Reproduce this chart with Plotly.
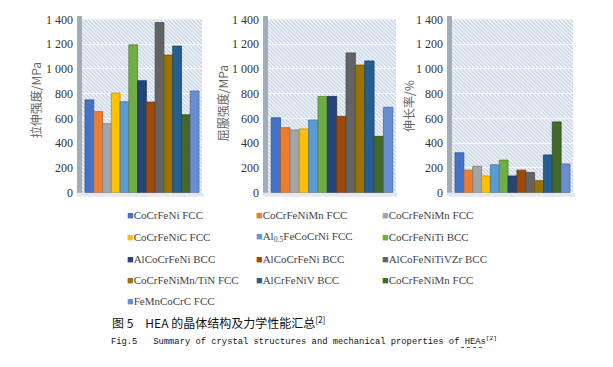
import plotly.graph_objects as go

# ---- data ----
series_names = [
    "CoCrFeNi FCC", "CoCrFeNiMn FCC", "CoCrFeNiMn FCC",
    "CoCrFeNiC FCC", "Al<sub>0.5</sub>FeCoCrNi FCC", "CoCrFeNiTi BCC",
    "AlCoCrFeNi BCC", "AlCoCrFeNi BCC", "AlCoFeNiTiVZr BCC",
    "CoCrFeNiMn/TiN FCC", "AlCrFeNiV BCC", "CoCrFeNiMn FCC",
    "FeMnCoCrC FCC",
]
series_colors = [
    "#4472C4", "#ED7D31", "#A5A5A5", "#FFC000", "#5B9BD5", "#70AD47",
    "#264478", "#9E480E", "#636363", "#997300", "#255E91", "#43682B",
    "#698ED0",
]
tensile_mpa = [750, 655, 558, 805, 735, 1195, 905, 732, 1375, 1112, 1185, 630, 822]
yield_mpa = [605, 525, 507, 515, 587, 778, 778, 617, 1130, 1032, 1065, 455, 690]
elongation = [322, 182, 213, 135, 225, 263, 135, 182, 163, 97, 305, 572, 232]

ytick_vals = [0, 200, 400, 600, 800, 1000, 1200, 1400]
ytick_text = ["0", "200", "400", "600", "800", "1 000", "1 200", "1 400"]
panel_titles = ["拉伸强度/MPa", "屈服强度/MPa", "伸长率/%"]
panel_data = [tensile_mpa, yield_mpa, elongation]

W, H = 613, 367
fig = go.Figure()

def darker(hexc, f=0.75):
    h = hexc.lstrip("#")
    r, g, b = int(h[0:2], 16), int(h[2:4], 16), int(h[4:6], 16)
    return "rgb(%d,%d,%d)" % (r * f, g * f, b * f)

for p, vals in enumerate(panel_data):
    ax = "" if p == 0 else str(p + 1)
    for i, v in enumerate(vals):
        fig.add_trace(go.Bar(
            x=["c"], y=[v], name=series_names[i],
            marker=dict(color=series_colors[i],
                        line=dict(color=darker(series_colors[i]), width=0.8)),
            xaxis="x" + ax, yaxis="y" + ax, showlegend=False,
        ))

# plot areas in pixels
xdom_px = [(82, 202), (268, 396), (452, 573)]
ytop_px, ybot_px = 13, 193
ydom = [1 - ybot_px / H, 1 - ytop_px / H]

layout = dict(
    width=W, height=H, margin=dict(l=0, r=0, t=0, b=0),
    paper_bgcolor="white", plot_bgcolor="#c9d6e7",
    barmode="group", bargap=0.05, bargroupgap=0,
    showlegend=False,
    font=dict(family="Liberation Serif", size=11, color="#444"),
)
for p in range(3):
    ax = "" if p == 0 else str(p + 1)
    layout["xaxis" + ax] = dict(
        domain=[xdom_px[p][0] / W, xdom_px[p][1] / W], anchor="y" + ax,
        range=[-0.5, 0.5],
        showticklabels=False, showgrid=False, zeroline=False, ticks="",
        showline=False,
    )
    layout["yaxis" + ax] = dict(
        domain=ydom, anchor="x" + ax, range=[0, 1400],
        tickvals=ytick_vals, ticktext=ytick_text,
        tickfont=dict(family="Liberation Serif", size=12, color="#333"),
        showgrid=True, gridcolor="rgba(255,255,255,0.8)", gridwidth=1,
        zeroline=False, ticks="", ticklabelstandoff=8,
        layer="below traces",
    )
fig.update_layout(**layout)

shapes = []
annotations = []
# diagonal hatching of the back walls (decoration, clipped to each plot area)
ph = ybot_px - ytop_px
step = 4
for p in range(3):
    ax = "" if p == 0 else str(p + 1)
    x0, x1 = xdom_px[p]
    w = x1 - x0
    s = -ph
    while s < w + step:
        shapes.append(dict(
            type="line", xref="x" + ax, yref="y" + ax,
            x0=-0.5 + s / w, y0=1400, x1=-0.5 + (s + ph) / w, y1=0,
            line=dict(color="rgba(255,255,255,0.75)", width=1.4), layer="below",
        ))
        s += step

# left side walls (3D effect) and floor
for p in range(3):
    x0, x1 = xdom_px[p]
    shapes.append(dict(type="rect", xref="paper", yref="paper",
                       x0=(x0 - 5) / W, x1=x0 / W, y0=ydom[0] - 0.006, y1=ydom[1] + 0.01,
                       fillcolor="#a3acb9", line=dict(width=0), layer="below"))
    shapes.append(dict(type="rect", xref="paper", yref="paper",
                       x0=(x0 - 5) / W, x1=(x1 + 2) / W, y0=ydom[0] - 0.012, y1=ydom[0],
                       fillcolor="#e4e8ee", line=dict(width=0), layer="below"))

# red dotted spell-check underline under "HEAs" in the caption
shapes.append(dict(type="line", xref="paper", yref="paper",
                   x0=461 / W, x1=482 / W, y0=1 - 354 / H, y1=1 - 354 / H,
                   line=dict(color="#e02020", width=1, dash="dot")))

# y-axis titles
title_pos = [(35, 97), (222, 100), (408, 103)]
for p in range(3):
    annotations.append(dict(
        text=panel_titles[p], x=title_pos[p][0] / W, y=1 - title_pos[p][1] / H,
        xref="paper", yref="paper", xanchor="center", yanchor="middle",
        textangle=-90, showarrow=False,
        font=dict(family="Noto Sans CJK SC", size=12, color="#666"),
    ))

# legend (3 columns, row-major)
col_x = [125, 254, 380]
row_y = [216, 239, 262, 284, 306]
for i, name in enumerate(series_names):
    r, c = divmod(i, 3)
    annotations.append(dict(
        text="<span style='color:%s'>■</span>%s" % (series_colors[i], name),
        x=col_x[c] / W, y=1 - row_y[r] / H, xref="paper", yref="paper",
        xanchor="left", yanchor="middle", showarrow=False,
        font=dict(family="Liberation Serif", size=11, color="#444"),
    ))

# caption
annotations.append(dict(
    text="图 5　HEA 的晶体结构及力学性能汇总<sup>[2]</sup>",
    x=110 / W, y=1 - 328 / H, xref="paper", yref="paper",
    xanchor="left", yanchor="middle", showarrow=False,
    font=dict(family="Noto Sans CJK SC", size=12, color="#111"),
))
annotations.append(dict(
    text="Fig.5   Summary of crystal structures and mechanical properties of HEAs<sup>[2]</sup>",
    x=109 / W, y=1 - 347 / H, xref="paper", yref="paper",
    xanchor="left", yanchor="middle", showarrow=False,
    font=dict(family="Liberation Mono", size=8.8, color="#111"),
))

fig.update_layout(shapes=shapes, annotations=annotations)
fig.write_html("out.html", config={"displayModeBar": False},
               post_script="document.body.style.margin='0';document.body.style.overflow='hidden';")
